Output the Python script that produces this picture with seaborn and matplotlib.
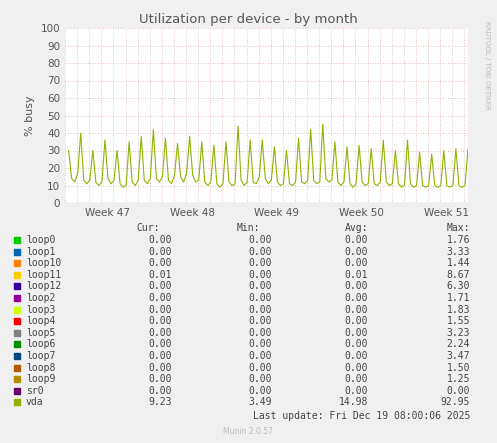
import matplotlib
matplotlib.use("Agg")
import matplotlib.pyplot as plt
import seaborn as sns
import numpy as np
import pandas as pd

names = ["loop0","loop1","loop10","loop11","loop12","loop2","loop3","loop4","loop5","loop6","loop7","loop8","loop9","sr0","vda"]
colors = ["#00CC00","#0066B3","#FF8000","#FFCC00","#330099","#990099","#CCFF00","#FF0000","#808080","#008F00","#00487D","#B35A00","#B38F00","#6B006B","#8FB300"]
cur = ["0.00"]*3+["0.01"]+["0.00"]*10+["9.23"]
mn = ["0.00"]*14+["3.49"]
avg = ["0.00"]*3+["0.01"]+["0.00"]*10+["14.98"]
mx = ["1.76","3.33","1.44","8.67","6.30","1.71","1.83","1.55","3.23","2.24","3.47","1.50","1.25","0.00","92.95"]

# vda, 4 samples per day (6h), starting ~Nov 16
vda = [30,14,12,17, 40,13,11,13, 30,12,10,12, 36,14,11,13, 30,11,9,10, 35,12,10,13,
       38,13,11,14, 42,14,12,15, 37,13,11,16, 34,15,12,17, 38,16,12,13, 35,12,10,12,
       33,11,9,11, 35,12,10,11, 44,13,10,12, 36,12,11,15, 36,14,11,13, 32,12,10,11,
       30,11,10,12, 37,12,11,13, 42,13,11,12, 45,14,12,13, 35,12,10,12, 32,11,9,11,
       33,12,10,11, 31,11,10,12, 36,12,10,11, 30,11,9,10, 36,11,9,10, 29,10,9,10,
       28,10,9,10, 30,10,9,10, 31,10,9,10, 31,10,9]
t = np.arange(len(vda)) / 4.0 + 0.3
df = pd.DataFrame({"t": t, "vda": vda})

fig = plt.figure(figsize=(4.97, 4.43), dpi=100, facecolor="#F0F0F0")
ax = fig.add_axes([65/497, 1-203/443, 403/497, 175/443])
ax.set_facecolor("white")
sns.lineplot(data=df, x="t", y="vda", color="#8FB300", lw=0.8, ax=ax)
ax.set_xlim(0, 33.3)
ax.set_ylim(0, 100)
ax.set_yticks(range(0, 101, 10))
ax.set_yticks([], minor=True)
ax.set_xticks(np.arange(0, 34, 1), minor=True)
wk = [3.5, 10.5, 17.5, 24.5, 31.5]
ax.set_xticks(wk)
ax.set_xticklabels(["Week 47","Week 48","Week 49","Week 50","Week 51"], fontsize=7.5, color="#555555")
ax.tick_params(axis="x", which="major", length=0)
ax.tick_params(axis="x", which="minor", length=0)
ax.tick_params(axis="y", labelsize=7.5, labelcolor="#555555", length=0)
ax.grid(axis="y", color="#E0B0B0", ls=(0, (1, 2)), lw=0.6)
ax.grid(axis="x", which="minor", color="#E0B0B0", ls=(0, (1, 2)), lw=0.6)
for s in ax.spines.values():
    s.set_visible(False)
ax.axhline(0, color="#333333", lw=0.8)
ax.set_xlabel("")
ax.set_ylabel("% busy", fontsize=8, color="#555555")
fig.text(0.5, 1-19/443, "Utilization per device - by month", ha="center", va="center", fontsize=9.5, color="#555555")
fig.text(487/497, 1-65/443, "RRDTOOL / TOBI OETIKER", rotation=270, ha="center", va="center", fontsize=5, color="#BBBBBB")

mono = dict(family="DejaVu Sans Mono", fontsize=7, color="#444444")
y0 = 228
fig.text(160/497, 1-y0/443, "Cur:", ha="right", va="center", **mono)
fig.text(260/497, 1-y0/443, "Min:", ha="right", va="center", **mono)
fig.text(368/497, 1-y0/443, "Avg:", ha="right", va="center", **mono)
fig.text(470/497, 1-y0/443, "Max:", ha="right", va="center", **mono)
for i, n in enumerate(names):
    y = 1 - (y0 + 12 + i * 11.6) / 443
    fig.patches.append(plt.Rectangle((14/497, y - 3/443), 6/497, 6/443, transform=fig.transFigure, color=colors[i]))
    fig.text(26/497, y, n, ha="left", va="center", **mono)
    fig.text(172/497, y, cur[i], ha="right", va="center", **mono)
    fig.text(272/497, y, mn[i], ha="right", va="center", **mono)
    fig.text(368/497, y, avg[i], ha="right", va="center", **mono)
    fig.text(470/497, y, mx[i], ha="right", va="center", **mono)
fig.text(470/497, 1-416/443, "Last update: Fri Dec 19 08:00:06 2025", ha="right", va="center", **mono)
fig.text(248/497, 1-432/443, "Munin 2.0.57", ha="center", va="center", fontsize=5.5, color="#BBBBBB")
fig.savefig("out.png", dpi=100, facecolor=fig.get_facecolor())
